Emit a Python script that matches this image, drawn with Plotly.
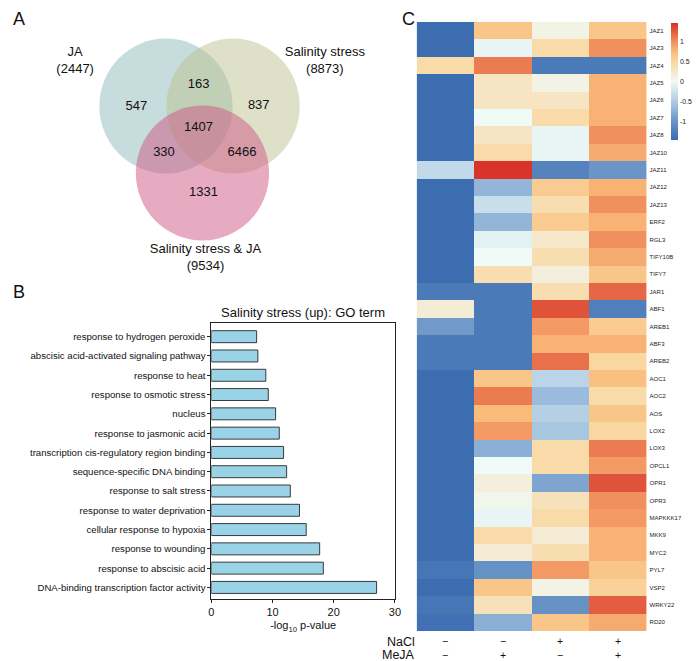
import plotly.graph_objects as go

# The page adds an 8px body margin, so the figure is sized to fit the window
# and all layout positions are given in window pixels then converted.
OFF = 8
W, H = 700 - OFF, 661 - OFF
FONT = "Liberation Sans, Arial, sans-serif"

# ---------------- data ----------------
venn_sets = ["JA", "Salinity stress", "Salinity stress & JA"]
venn_totals = [2447, 8873, 9534]
venn_regions = ["JA only", "JA∩Sal", "Sal only", "all", "JA∩Both", "Sal∩Both", "Both only"]
venn_counts = [547, 163, 837, 1407, 330, 6466, 1331]

go_terms = [
    "response to hydrogen peroxide",
    "abscisic acid-activated signaling pathway",
    "response to heat",
    "response to osmotic stress",
    "nucleus",
    "response to jasmonic acid",
    "transcription cis-regulatory region binding",
    "sequence-specific DNA binding",
    "response to salt stress",
    "response to water deprivation",
    "cellular response to hypoxia",
    "response to wounding",
    "response to abscisic acid",
    "DNA-binding transcription factor activity",
]
go_values = [7.4, 7.6, 8.9, 9.3, 10.5, 11.1, 11.8, 12.3, 12.9, 14.4, 15.5, 17.7, 18.3, 27.0]

conditions = ["Control", "MeJA", "NaCl", "NaCl+MeJA"]
nacl_signs = ["−", "−", "+", "+"]
meja_signs = ["−", "+", "−", "+"]
genes = ["JAZ1", "JAZ3", "JAZ4", "JAZ5", "JAZ6", "JAZ7", "JAZ8", "JAZ10", "JAZ11",
         "JAZ12", "JAZ13", "ERF2", "RGL3", "TIFY10B", "TIFY7", "JAR1", "ABF1",
         "AREB1", "ABF3", "AREB2", "AOC1", "AOC2", "AOS", "LOX2", "LOX3", "OPCL1",
         "OPR1", "OPR3", "MAPKKK17", "MKK9", "MYC2", "PYL7", "VSP2", "WRKY22", "RD20"]
expr = [
    [-1.45, 0.65, 0.10, 0.65],
    [-1.45, -0.05, 0.45, 1.00],
    [0.45, 1.10, -1.30, -1.30],
    [-1.45, 0.30, 0.10, 0.80],
    [-1.45, 0.30, 0.30, 0.80],
    [-1.45, 0.00, 0.45, 0.80],
    [-1.45, 0.30, -0.05, 1.00],
    [-1.45, 0.45, -0.05, 0.85],
    [-0.35, 1.45, -1.20, -1.00],
    [-1.45, -0.70, 0.60, 0.80],
    [-1.45, -0.30, 0.40, 1.00],
    [-1.45, -0.70, 0.60, 0.80],
    [-1.45, -0.10, 0.25, 1.00],
    [-1.45, 0.00, 0.40, 0.85],
    [-1.45, 0.40, 0.15, 0.65],
    [-1.30, -1.30, 0.40, 1.20],
    [0.20, -1.30, 1.30, -1.25],
    [-0.95, -1.30, 0.95, 0.60],
    [-1.30, -1.30, 0.80, 0.80],
    [-1.30, -1.30, 1.15, 0.50],
    [-1.45, 0.65, -0.40, 0.70],
    [-1.45, 1.10, -0.65, 0.45],
    [-1.45, 0.75, -0.45, 0.65],
    [-1.45, 0.95, -0.55, 0.50],
    [-1.45, -0.75, 0.45, 1.10],
    [-1.45, 0.00, 0.45, 0.95],
    [-1.45, 0.15, -0.85, 1.30],
    [-1.45, 0.05, 0.35, 1.00],
    [-1.45, -0.05, 0.45, 0.95],
    [-1.45, 0.45, 0.20, 0.80],
    [-1.45, 0.20, 0.40, 0.80],
    [-1.35, -1.05, 0.95, 0.65],
    [-1.45, 0.65, 0.10, 0.55],
    [-1.35, 0.35, -1.05, 1.25],
    [-1.40, -0.75, 0.65, 0.85],
]
cbar_ticks = [-1, -0.5, 0, 0.5, 1]


def px(x):
    return max(0.0, (x - OFF) / W)


def py(y):
    return 1 - (y - OFF) / H


fig = go.Figure()

# ---------------- Panel A: Venn ----------------
circle_specs = [  # centre x, centre y, radius, colour (layout, window px)
    (165, 106, 67.5, "rgba(143,186,188,0.5)"),
    (233, 106, 67.5, "rgba(190,194,146,0.5)"),
    (202, 173, 67.5, "rgba(206,86,132,0.5)"),
]
for cx, cy, r, col in circle_specs:
    fig.add_shape(type="circle", xref="x3", yref="y3",
                  x0=cx - r, x1=cx + r, y0=cy - r, y1=cy + r,
                  fillcolor=col, line=dict(width=0), layer="below")

region_pos_x = [135, 198, 259, 198, 163, 242, 203]
region_pos_y = [107, 85, 106, 128, 153, 153, 193]
fig.add_trace(go.Scatter(
    x=region_pos_x, y=region_pos_y, xaxis="x3", yaxis="y3",
    mode="text", text=[str(c) for c in venn_counts],
    textfont=dict(family=FONT, size=13, color="#111"),
    hoverinfo="skip", showlegend=False))

set_label_x = [73, 326, 205]
set_label_y = [61, 61, 258]
fig.add_trace(go.Scatter(
    x=set_label_x, y=set_label_y, xaxis="x3", yaxis="y3",
    mode="text", text=[f"{s}<br>({t})" for s, t in zip(venn_sets, venn_totals)],
    textfont=dict(family=FONT, size=13, color="#111"),
    hoverinfo="skip", showlegend=False))

# ---------------- Panel B: GO bars ----------------
fig.add_trace(go.Bar(
    x=go_values, y=go_terms, orientation="h", xaxis="x", yaxis="y",
    width=0.62,
    marker=dict(color="#9ad3e8", line=dict(color="#3a3a3a", width=1)),
    hoverinfo="x+y", showlegend=False))

# ---------------- Panel C: heatmap ----------------
colorscale = [
    [0.0, "#3a6bb0"],
    [0.16, "#6a95c8"],
    [0.33, "#aecbe3"],
    [0.5, "#f0faf6"],
    [0.67, "#fad6a0"],
    [0.755, "#f9bb7a"],
    [0.84, "#f0905e"],
    [1.0, "#d73027"],
]
fig.add_trace(go.Heatmap(
    z=expr, x=conditions, y=genes, xaxis="x2", yaxis="y2",
    colorscale=colorscale, zmin=-1.47, zmax=1.47,
    colorbar=dict(
        x=px(677), xanchor="left", y=py(23), yanchor="top",
        lenmode="pixels", len=117, thickness=7, thicknessmode="pixels",
        xpad=0, ypad=0, outlinewidth=0, ticks="",
        tickvals=cbar_ticks, ticktext=[f"{v:g}" for v in cbar_ticks],
        tickfont=dict(family=FONT, size=7, color="#222"),
    ),
    hovertemplate="%{y} %{x}: %{z}<extra></extra>"))

annotations = []
for cond, n, m in zip(conditions, nacl_signs, meja_signs):
    annotations.append(dict(x=cond, y=py(648), xref="x2", yref="paper",
                            text=f"{n}<br>{m}", showarrow=False, yanchor="middle",
                            font=dict(family=FONT, size=10.5, color="#111")))
for txt, yy in [("NaCl", 642), ("MeJA", 655)]:
    annotations.append(dict(x=px(419), y=py(yy), xref="paper", yref="paper",
                            text=txt, showarrow=False, xanchor="right", yanchor="middle",
                            font=dict(family=FONT, size=12.5, color="#111")))

for lab, xx, yy in [("A", 8, 19), ("B", 8, 292), ("C", 402, 19)]:
    annotations.append(dict(x=px(xx), y=py(yy), xref="paper", yref="paper",
                            text=lab, showarrow=False, xanchor="left", yanchor="middle",
                            font=dict(family=FONT, size=18, color="#111")))

annotations.append(dict(x=px(304), y=py(312), xref="paper", yref="paper",
                        text="Salinity stress (up): GO term", showarrow=False,
                        xanchor="center", yanchor="middle",
                        font=dict(family=FONT, size=13, color="#111")))

fig.update_layout(
    width=W, height=H,
    margin=dict(l=0, r=0, t=0, b=0),
    paper_bgcolor="white", plot_bgcolor="white",
    font=dict(family=FONT, color="#111"),
    annotations=annotations,
    xaxis=dict(domain=[px(211), px(397)], range=[0, 30], tickvals=[0, 10, 20, 30],
               showline=True, linecolor="#222", linewidth=1, mirror=True,
               ticks="outside", ticklen=3, tickcolor="#222", showgrid=False, zeroline=False,
               tickfont=dict(size=11, color="#111"),
               title=dict(text="-log<sub>10</sub> p-value", font=dict(size=11), standoff=4),
               anchor="y"),
    yaxis=dict(domain=[py(599), py(323)], type="category",
               categoryorder="array", categoryarray=go_terms,
               range=[13.6, -0.71],
               showline=True, linecolor="#222", linewidth=1, mirror=True,
               ticks="outside", ticklen=3, tickcolor="#222", showgrid=False,
               tickfont=dict(size=9.6, color="#111"), anchor="x"),
    xaxis2=dict(domain=[px(419), px(652)], showticklabels=False, ticks="",
                showgrid=False, zeroline=False, showline=False, anchor="y2"),
    yaxis2=dict(domain=[py(631), py(22)], side="right", autorange="reversed",
                showgrid=False, zeroline=False, showline=False, ticks="",
                ticklabelstandoff=2,
                tickfont=dict(size=6, color="#222"), anchor="x2"),
    xaxis3=dict(domain=[0, px(400)], range=[OFF, 400], visible=False, fixedrange=True,
                anchor="y3"),
    yaxis3=dict(domain=[py(290), 1], range=[290, OFF], visible=False, fixedrange=True,
                anchor="x3"),
)

fig.write_html("out.html")
